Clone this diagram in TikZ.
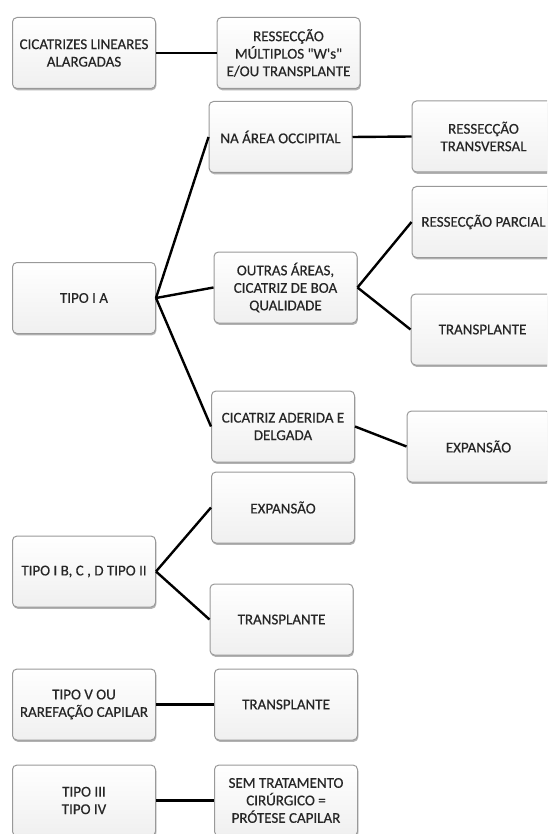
\documentclass[tikz,border=0pt]{standalone}
\usepackage{fontspec}
\setmainfont{Carlito}
\newfontfamily\boxfont[FakeBold=0.4]{Carlito}
\usetikzlibrary{shadows}
\tikzset{
  box/.style={rectangle, rounded corners=4.5pt, draw=black!40, line width=1pt,
    top color=white, bottom color=black!6, minimum width=143pt, minimum height=71pt,
    align=center, inner sep=2pt, text=black!85,
    font=\boxfont\fontsize{15}{17.5}\selectfont,
    drop shadow={shadow xshift=0.8pt, shadow yshift=-1.8pt, opacity=0.5, fill=black!60}},
  link/.style={draw=black, line width=2.4pt}
}
\begin{document}
\begin{tikzpicture}[x=1pt,y=-1pt]
\useasboundingbox (0,0) rectangle (547,834);
\clip (0,0) rectangle (547,834);
\fill[white] (0,0) rectangle (547,834);
\node[box] (A) at (84,53) {CICATRIZES LINEARES\\ALARGADAS};
\node[box] (B) at (288.5,53) {RESSECÇÃO\\MÚLTIPLOS "W's"\\E/OU TRANSPLANTE};
\node[box] (NA) at (280.5,137) {NA ÁREA OCCIPITAL};
\node[box] (RT) at (483.5,136.5) {RESSECÇÃO\\TRANSVERSAL};
\node[box] (RP) at (483.5,222) {RESSECÇÃO PARCIAL};
\node[box] (OUT) at (285.5,287.5) {OUTRAS ÁREAS,\\CICATRIZ DE BOA\\QUALIDADE};
\node[box] (TR1) at (482.5,329.5) {TRANSPLANTE};
\node[box] (CAD) at (283,426.5) {CICATRIZ ADERIDA E\\DELGADA};
\node[box] (EXP1) at (478.5,446.5) {EXPANSÃO};
\node[box] (TA) at (84,298) {TIPO I A};
\node[box] (EXP2) at (283,507.5) {EXPANSÃO};
\node[box] (TR2) at (281.5,619.5) {TRANSPLANTE};
\node[box] (TB) at (84,571.5) {TIPO I B, C , D TIPO II};
\node[box] (TV) at (84,704.5) {TIPO V OU\\RAREFAÇÃO CAPILAR};
\node[box] (TR3) at (286,704.5) {TRANSPLANTE};
\node[box] (T3) at (84,800.5) {TIPO III\\TIPO IV};
\node[box] (SEM) at (286,800.5) {SEM TRATAMENTO\\CIRÚRGICO =\\PRÓTESE CAPILAR};
\draw[link] (A.east) -- (B.west);
\draw[link] (NA.east) -- (RT.west);
\draw[link] (TA.east) -- (NA.west);
\draw[link] (TA.east) -- (OUT.west);
\draw[link] (TA.east) -- (CAD.west);
\draw[link] (OUT.east) -- (RP.west);
\draw[link] (OUT.east) -- (TR1.west);
\draw[link] (CAD.east) -- (EXP1.west);
\draw[link] (TB.east) -- (EXP2.west);
\draw[link] (TB.east) -- (TR2.west);
\draw[link] (TV.east) -- (TR3.west);
\draw[link] (T3.east) -- (SEM.west);
\end{tikzpicture}
\end{document}
